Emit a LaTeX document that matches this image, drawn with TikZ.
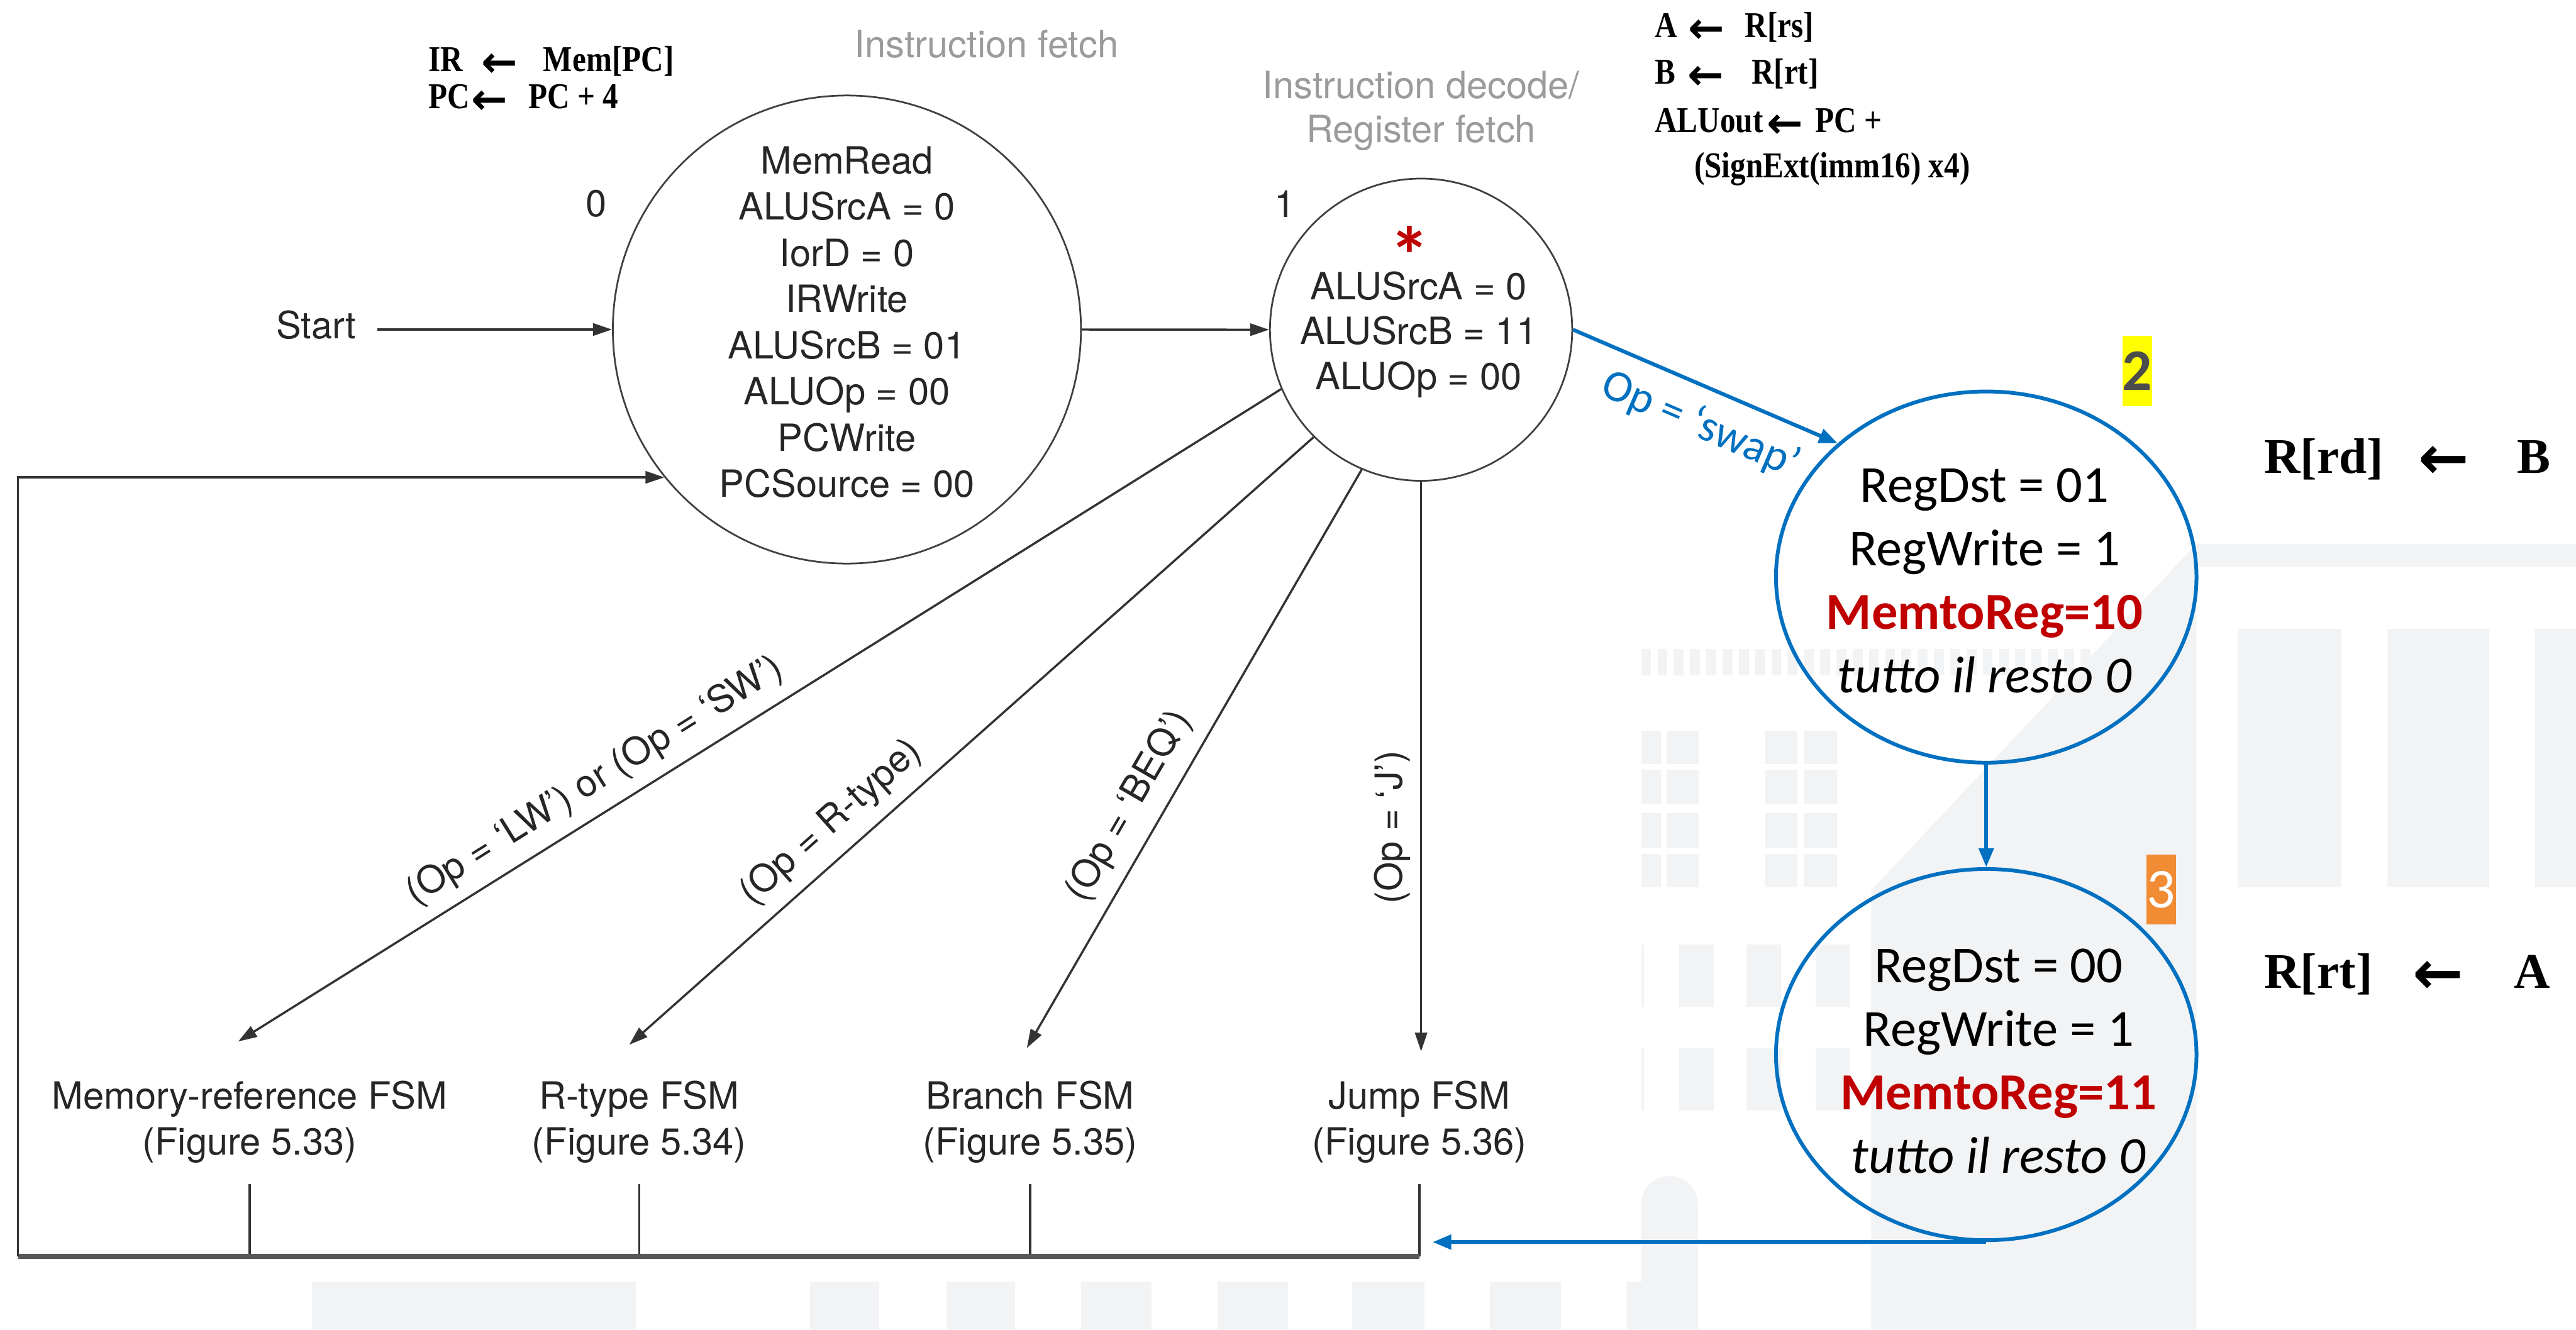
\documentclass[tikz,border=0pt]{standalone}
\usepackage{fontspec}
\setmainfont{TeX Gyre Heros}
\newfontfamily\calib{Carlito}
\newfontfamily\tnr{Liberation Serif}
\newfontfamily\tnrc[FakeStretch=0.85]{Liberation Serif}
\newfontfamily\dvs{DejaVu Sans}
\usetikzlibrary{shapes.geometric,arrows.meta}

\definecolor{ink}{RGB}{38,38,38}
\definecolor{ttl}{RGB}{155,155,155}
\definecolor{mblue}{RGB}{0,112,192}
\definecolor{mred}{RGB}{192,0,0}
\definecolor{hlyel}{RGB}{255,255,0}
\definecolor{hlorg}{RGB}{241,139,52}
\definecolor{wm}{RGB}{242,243,245}

% bold left arrows used in the register-transfer notes
\newcommand\smallget{\raisebox{-2pt}{\dvs\bfseries\fontsize{15}{15}\selectfont ←}}
\newcommand\bigget{\raisebox{-2pt}{\dvs\bfseries\fontsize{21}{21}\selectfont ←}}

\tikzset{
  hv/.style={font=\fontsize{13}{16}\selectfont, text=ink},
  lbl/.style={font=\fontsize{13}{16}\selectfont, text=ink},
  st/.style={draw=black!75, line width=0.6pt, circle, inner sep=0pt},
  bst/.style={draw=mblue, line width=1.3pt, ellipse, inner sep=0pt,
              minimum width=5.12cm, minimum height=4.52cm},
  arr/.style={draw=black!80, line width=0.75pt, -{Triangle[length=6.5pt,width=4.2pt]}},
  barr/.style={draw=mblue, line width=1.3pt, -{Triangle[length=6.5pt,width=5pt]}},
  tk/.style={draw=black!80, line width=0.7pt},
  bar/.style={draw=black!65, line width=1.7pt},
  btxt/.style={font=\calib\fontsize{18}{21.95}\selectfont, text=black, align=center},
  tag/.style={inner sep=0pt, minimum width=0.36cm, minimum height=0.855cm},
  rtl/.style={anchor=base west, inner sep=0pt, text=black},
  small/.style={rtl, font=\tnrc\bfseries\fontsize{12.6}{14}\selectfont},
  big/.style={rtl, font=\tnr\bfseries\fontsize{17.3}{20}\selectfont},
}

\begin{document}
\begin{tikzpicture}[x=0.02cm, y=-0.02cm]
\useasboundingbox (0,0) rectangle (1568,809.36);
\fill[white] (0,0) rectangle (1568,809.36);

% faint building watermark of the slide background
\fill[wm] (1337,331) rectangle (1568,345);
\fill[wm] (1362,383) rectangle (1425,540);
\fill[wm] (1453,383) rectangle (1515,540);
\fill[wm] (1543,383) rectangle (1568,540);
\fill[wm] (1337,331) -- (1139,542) -- (1139,809.36) -- (1337,809.36) -- cycle;
\foreach \xa/\xb in {999/1011, 1014.5/1034, 1074/1094, 1098/1118}
  \foreach \ya/\yb in {445/465, 468.5/489.5, 495/516, 520/540}
    \fill[wm] (\xa,\ya) rectangle (\xb,\yb);
\foreach \i in {0,...,27}
  \fill[wm] ({999+9.9*\i},395) rectangle +(6,16);
\foreach \xa/\xb in {999/1000.5, 1022/1043, 1063/1084, 1105/1126}
  \foreach \ya/\yb in {575/613, 638/676}
    \fill[wm] (\xa,\ya) rectangle (\xb,\yb);
\fill[wm] (999,809.36) -- (999,733) .. controls (999,723.5) and (1006.5,716) .. (1016.25,716)
  .. controls (1026,716) and (1033.5,723.5) .. (1033.5,733) -- (1033.5,809.36) -- cycle;
\foreach \xa/\xb in {190/387, 493/535, 576/618, 658/701, 741/784, 823/867, 907/950, 990/1000}
  \fill[wm] (\xa,780) rectangle (\xb,809.36);

% register-transfer notes
\node[small] (ir) at (260.5,43.5) {IR\hspace{6.5pt}\smallget\hspace{8.8pt}Mem[PC]};
\node[small] (pc) at (260.5,66) {PC\hspace{0.5pt}\smallget\hspace{7.3pt}PC + 4};
\node[small] (ra) at (1007,22.7) {A\hspace{3.9pt}\smallget\hspace{7pt}R[rs]};
\node[small] (rb) at (1007,51.2) {B\hspace{4.2pt}\smallget\hspace{9.6pt}R[rt]};
\node[small] (ralu) at (1007,80.4) {ALUout\hspace{1.4pt}\smallget\hspace{4.2pt}PC +};
\node[small] (rsig) at (1031,108.3) {(SignExt(imm16) x4)};
\node[big] (wrd) at (1378,288) {R[rd]\hspace{12.1pt}\bigget\hspace{16.5pt}B};
\node[big] (wrt) at (1378,601.5) {R[rt]\hspace{14pt}\bigget\hspace{17.5pt}A};

% phase titles
\node[hv, text=ttl] (tif) at (600.5,27) {Instruction fetch};
\node[hv, text=ttl, align=center, font=\fontsize{13}{15.2}\selectfont] (tid)
  at (865,67.6) {Instruction decode/\\Register fetch};

% states 0 and 1
\node[st, minimum size=5.70cm] (s0) at (515.5,200.6) {};
\node[hv, align=center, font=\fontsize{13}{16}\selectfont] (s0t) at (515.5,196.1)
  {MemRead\\ALUSrcA = 0\\IorD = 0\\IRWrite\\ALUSrcB = 01\\ALUOp = 00\\PCWrite\\PCSource = 00};
\node[hv] (n0) at (363,124) {0};

\node[st, minimum size=3.68cm] (s1) at (865,200.7) {};
\node[hv, align=center, font=\fontsize{13}{15.6}\selectfont] (s1t) at (863.5,203.6)
  {ALUSrcA = 0\\ALUSrcB = 11\\ALUOp = 00};
\node[hv] (n1) at (782,124) {1};
\node[anchor=base, inner sep=0pt, text=mred, font=\calib\bfseries\fontsize{28}{28}\selectfont]
  (ast) at (858,173) {*};

\node[hv] (start) at (192.5,198) {Start};
\draw[arr, shorten <=3.7pt] (start.east |- s0.west) -- (s0.west);
\draw[arr] (s0.east) -- (s1.west);

% sub-machine targets
\node[hv, align=center, font=\fontsize{13}{15.8}\selectfont] (fsmM) at (152,683)
  {Memory-reference FSM\\(Figure 5.33)};
\node[hv, align=center, font=\fontsize{13}{15.8}\selectfont] (fsmR) at (389,683)
  {R-type FSM\\(Figure 5.34)};
\node[hv, align=center, font=\fontsize{13}{15.8}\selectfont] (fsmB) at (627,683)
  {Branch FSM\\(Figure 5.35)};
\node[hv, align=center, font=\fontsize{13}{15.8}\selectfont] (fsmJ) at (864,683)
  {Jump FSM\\(Figure 5.36)};

\coordinate (tipM) at (145,634);
\coordinate (tipR) at (383,636);
\coordinate (tipB) at (625,638);
\coordinate (tipJ) at (864,640);
\coordinate (bl) at (11,765);
\coordinate (ret) at (872,0);

\draw[arr] (s1.203) -- node[lbl, sloped, pos=0.642, anchor=south, inner sep=4.3pt]
  {(Op = ‘LW’) or (Op = ‘SW’)} (tipM);
\draw[arr] (s1.225) -- node[lbl, sloped, pos=0.674, anchor=south, inner sep=4.4pt]
  {(Op = R-type)} (tipR);
\draw[arr] (s1.247) -- node[lbl, sloped, pos=0.61, anchor=south, inner sep=4.6pt]
  {(Op = ‘BEQ’)} (tipB);
\draw[arr] (s1.south) -- node[lbl, rotate=90, pos=0.607, anchor=south, inner sep=3.4pt]
  {(Op = ‘J’)} (s1.south |- tipJ);

% return to fetch
\draw[tk] ([yshift=-0.134cm]fsmM.south) -- (fsmM.south |- bl);
\draw[tk] ([yshift=-0.134cm]fsmR.south) -- (fsmR.south |- bl);
\draw[tk] ([yshift=-0.134cm]fsmB.south) -- (fsmB.south |- bl);
\draw[tk] ([yshift=-0.134cm]fsmJ.south) -- (fsmJ.south |- bl);
\draw[bar] (bl) -- (fsmJ.south |- bl);
\draw[arr] (bl) |- (s0.219);

% swap states
\node[bst] (s2) at (1209,351.3) {};
\node[btxt] (s2t) at (1208,353.5)
  {RegDst = 01\\RegWrite = 1\\{\bfseries\color{mred}MemtoReg=10}\\\textit{tutto il resto 0}};
\node[tag, fill=hlyel, text=black!70, font=\calib\bfseries\fontsize{20.4}{24}\selectfont]
  (tag2) at (1301,225.8) {2};

\node[bst] (s3) at (1209,642) {};
\node[btxt] (s3t) at (1216.5,646)
  {RegDst = 00\\RegWrite = 1\\{\bfseries\color{mred}MemtoReg=11}\\\textit{tutto il resto 0}};
\node[tag, fill=hlorg, text=white, font=\calib\fontsize{19.5}{24}\selectfont]
  (tag3) at (1315.5,541.5) {3};

\draw[barr] (s1.east) -- node[sloped, pos=0.537, anchor=north, inner sep=5.4pt, text=mblue,
  font=\calib\fontsize{15.5}{18}\selectfont] {Op = ‘swap’} (s2.138);
\draw[barr] (s2.south) -- (s3.north);
\draw[barr] (s3.south) -- (s3.south -| ret);
\end{tikzpicture}
\end{document}
